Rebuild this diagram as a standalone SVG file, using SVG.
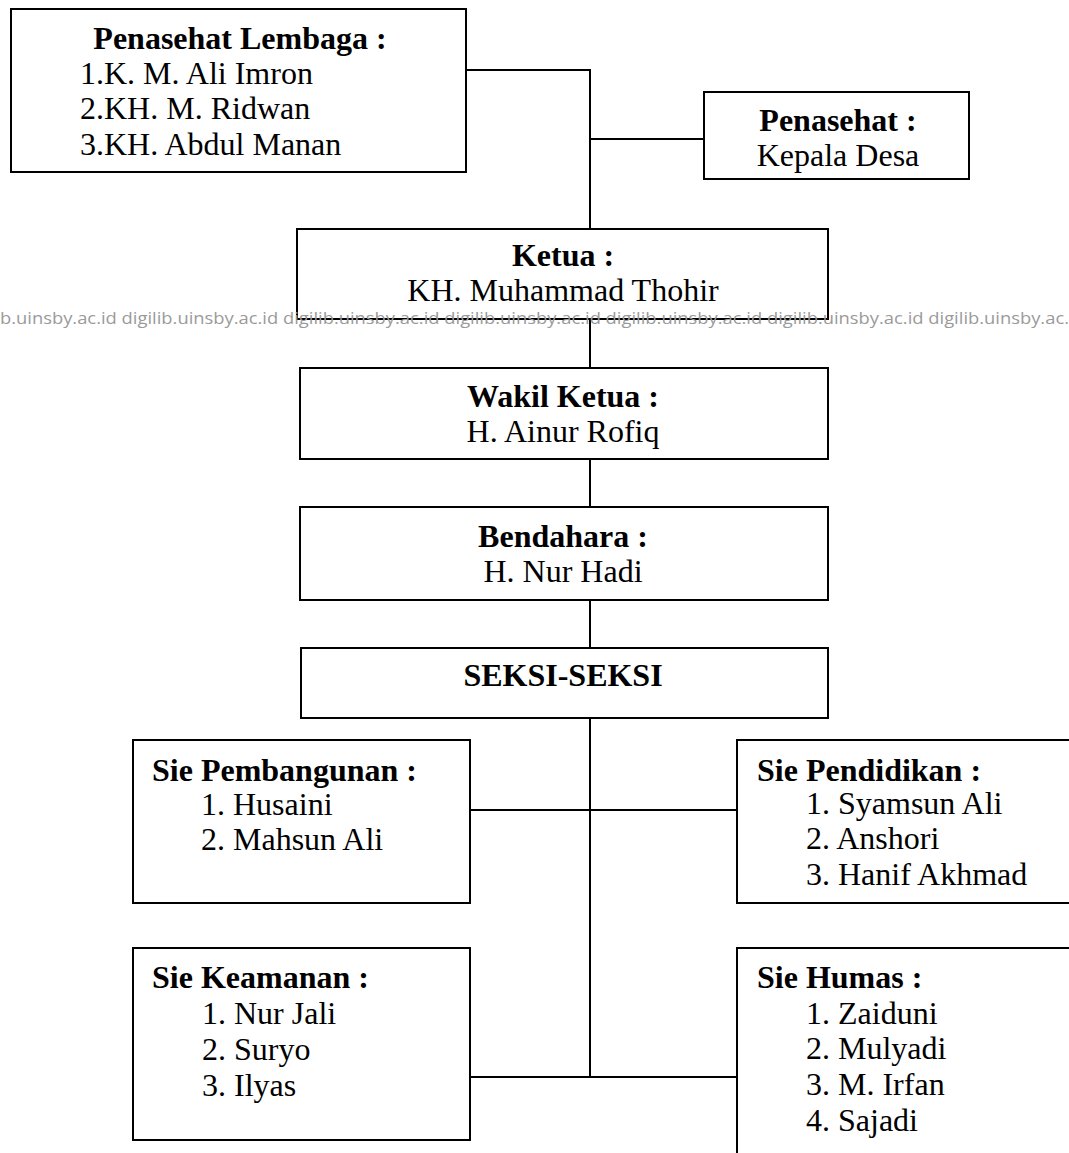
<svg xmlns="http://www.w3.org/2000/svg" width="1069" height="1153" viewBox="0 0 1069 1153">
<style>
.box{fill:#fff;stroke:#000;stroke-width:2}
.ln{fill:none;stroke:#000;stroke-width:2}
text{font-family:"Liberation Serif","Times New Roman",serif;font-size:32px;fill:#000}
.b{font-weight:bold}
.c{text-anchor:middle}
.wm{font-family:"Open Sans","DejaVu Sans",sans-serif;font-size:16px;fill:#9a9a9a}
</style>
<rect width="1069" height="1153" fill="#fff"/>
<g id="connectors">
<polyline class="ln" points="466,70 590,70 590,229"/>
<line class="ln" x1="590" y1="139" x2="704" y2="139"/>
<line class="ln" x1="590" y1="319" x2="590" y2="368"/>
<line class="ln" x1="590" y1="459" x2="590" y2="507"/>
<line class="ln" x1="590" y1="600" x2="590" y2="648"/>
<line class="ln" x1="590" y1="718" x2="590" y2="1077"/>
<line class="ln" x1="470" y1="810" x2="737" y2="810"/>
<line class="ln" x1="470" y1="1077" x2="737" y2="1077"/>
</g>
<g id="penasehat-lembaga">
<rect class="box" x="11" y="9" width="455" height="163"/>
<text class="b c" x="240" y="49">Penasehat Lembaga :</text>
<text x="80" y="84">1.K. M. Ali Imron</text>
<text x="80" y="119">2.KH. M. Ridwan</text>
<text x="80" y="155">3.KH. Abdul Manan</text>
</g>
<g id="penasehat">
<rect class="box" x="704" y="92" width="265" height="87"/>
<text class="b c" x="838" y="131">Penasehat :</text>
<text class="c" x="838" y="166">Kepala Desa</text>
</g>
<g id="ketua">
<rect class="box" x="297" y="229" width="531" height="90"/>
<text class="b c" x="563" y="266">Ketua :</text>
<text class="c" x="563" y="301">KH. Muhammad Thohir</text>
</g>
<g id="wakil-ketua">
<rect class="box" x="300" y="368" width="528" height="91"/>
<text class="b c" x="563" y="407">Wakil Ketua :</text>
<text class="c" x="563" y="442">H. Ainur Rofiq</text>
</g>
<g id="bendahara">
<rect class="box" x="300" y="507" width="528" height="93"/>
<text class="b c" x="563" y="547">Bendahara :</text>
<text class="c" x="563" y="582">H. Nur Hadi</text>
</g>
<g id="seksi">
<rect class="box" x="301" y="648" width="527" height="70"/>
<text class="b c" x="563" y="686">SEKSI-SEKSI</text>
</g>
<g id="sie-pembangunan">
<rect class="box" x="133" y="740" width="337" height="163"/>
<text class="b" x="152" y="781">Sie Pembangunan :</text>
<text x="201" y="815">1. Husaini</text>
<text x="201" y="850">2. Mahsun Ali</text>
</g>
<g id="sie-pendidikan">
<rect class="box" x="737" y="740" width="340" height="163"/>
<text class="b" x="757" y="781">Sie Pendidikan :</text>
<text x="806" y="814">1. Syamsun Ali</text>
<text x="806" y="849">2. Anshori</text>
<text x="806" y="885">3. Hanif Akhmad</text>
</g>
<g id="sie-keamanan">
<rect class="box" x="133" y="948" width="337" height="192"/>
<text class="b" x="152" y="988">Sie Keamanan :</text>
<text x="202" y="1024">1. Nur Jali</text>
<text x="202" y="1060">2. Suryo</text>
<text x="202" y="1096">3. Ilyas</text>
</g>
<g id="sie-humas">
<rect class="box" x="737" y="948" width="340" height="220"/>
<text class="b" x="757" y="988">Sie Humas :</text>
<text x="806" y="1024">1. Zaiduni</text>
<text x="806" y="1059">2. Mulyadi</text>
<text x="806" y="1095">3. M. Irfan</text>
<text x="806" y="1131">4. Sajadi</text>
</g>
<text class="wm" x="0" y="324" textLength="1069" lengthAdjust="spacingAndGlyphs">b.uinsby.ac.id  digilib.uinsby.ac.id  digilib.uinsby.ac.id  digilib.uinsby.ac.id  digilib.uinsby.ac.id  digilib.uinsby.ac.id  digilib.uinsby.ac.</text>
</svg>
